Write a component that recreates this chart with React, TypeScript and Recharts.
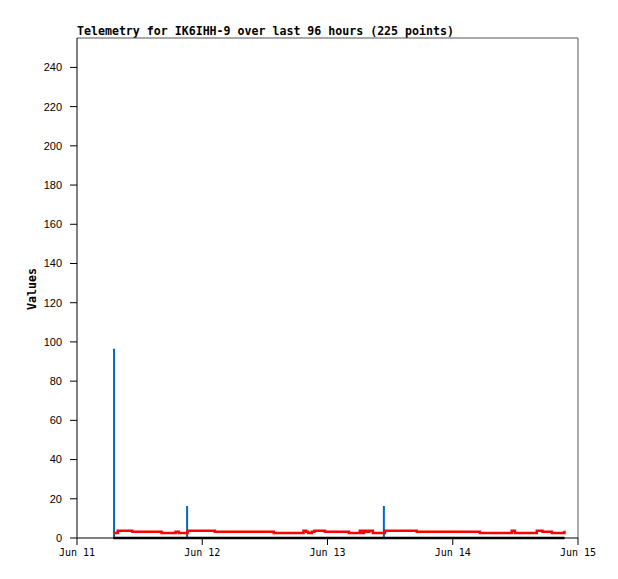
import { LineChart, Line, XAxis, YAxis, ReferenceLine } from 'recharts';

// hours since Jun 11 00:00
const dayTicks = [0, 24, 48, 72, 96];
const dayLabels = ['Jun 11', 'Jun 12', 'Jun 13', 'Jun 14', 'Jun 15'];
const valueTicks = [0, 20, 40, 60, 80, 100, 120, 140, 160, 180, 200, 220, 240];

const redHours = [
  7.1, 7.8, 10.6, 16.2, 18.9, 19.5, 21.2, 26.4, 37.7, 43.4, 43.9, 44.3, 45.0, 45.5,
  47.5, 52.1, 54.2, 54.6, 55.0, 55.5, 56.0, 56.7, 59.0, 65.1, 77.2, 83.3, 83.9, 88.1,
  89.2, 91.0, 93.4,
];
const redValues = [
  2.6, 3.7, 3.2, 2.6, 3.2, 2.6, 3.7, 3.2, 2.6, 3.7, 3.2, 2.6, 3.2, 3.7,
  3.2, 2.6, 3.7, 2.6, 3.7, 3.2, 3.7, 2.6, 3.7, 3.2, 2.6, 3.7, 2.6, 3.7,
  3.2, 2.6, 3.7,
];

const blueHours = [7.1, 7.1, 7.1, 21.1, 21.1, 21.1, 58.8, 58.8, 58.8, 93.4];
const blueValues = [0, 96.5, 0, 0, 16.3, 0, 0, 16.3, 0, 0];

const blackHours = [7.0, 93.4];
const blackValues = [0, 0];

const redData = redHours.map((t, i) => ({ t, v: redValues[i] }));
const blueData = blueHours.map((t, i) => ({ t, v: blueValues[i] }));
const blackData = blackHours.map((t, i) => ({ t, v: blackValues[i] }));

const App = () => {
  return (
    <div style={{ position: 'relative', width: 618, height: 579, background: '#fff' }}>
      <style>{'body{margin:0}'}</style>
      <div
        style={{
          position: 'absolute',
          left: 77,
          top: 24,
          fontFamily: '"DejaVu Sans Mono", monospace',
          fontWeight: 'bold',
          fontSize: 11.6,
          whiteSpace: 'nowrap',
        }}
      >
        Telemetry for IK6IHH-9 over last 96 hours (225 points)
      </div>
      <div
        style={{
          position: 'absolute',
          left: 32,
          top: 289,
          transform: 'translate(-50%, -50%) rotate(-90deg)',
          fontFamily: '"DejaVu Sans Mono", monospace',
          fontWeight: 'bold',
          fontSize: 11.6,
        }}
      >
        Values
      </div>
      <LineChart width={618} height={579} margin={{ top: 38, right: 40, bottom: 11, left: 27 }}>
        <XAxis
          type="number"
          dataKey="t"
          domain={[0, 96]}
          ticks={dayTicks}
          tickFormatter={(v: number) => dayLabels[dayTicks.indexOf(v)]}
          height={30}
          stroke="#000"
          tickSize={7}
          tickMargin={4}
          tick={{ fill: '#000', fontSize: 10, fontFamily: '"DejaVu Sans Mono", monospace' }}
          allowDuplicatedCategory={false}
        />
        <YAxis
          type="number"
          domain={[0, 255]}
          ticks={valueTicks}
          width={50}
          stroke="#000"
          tickSize={7}
          tickMargin={8}
          tick={{ fill: '#000', fontSize: 11, fontFamily: '"Liberation Sans", Arial, sans-serif' }}
        />
        <ReferenceLine y={255} stroke="#555" />
        <ReferenceLine x={96} stroke="#555" />
        <Line
          data={blueData}
          dataKey="v"
          type="linear"
          stroke="#0066cc"
          strokeWidth={2}
          dot={false}
          isAnimationActive={false}
        />
        <Line
          data={blackData}
          dataKey="v"
          type="linear"
          stroke="#000"
          strokeWidth={2.5}
          dot={false}
          isAnimationActive={false}
        />
        <Line
          data={redData}
          dataKey="v"
          type="stepAfter"
          stroke="#ff0000"
          strokeWidth={2.5}
          dot={false}
          isAnimationActive={false}
        />
      </LineChart>
    </div>
  );
};

export default App;
